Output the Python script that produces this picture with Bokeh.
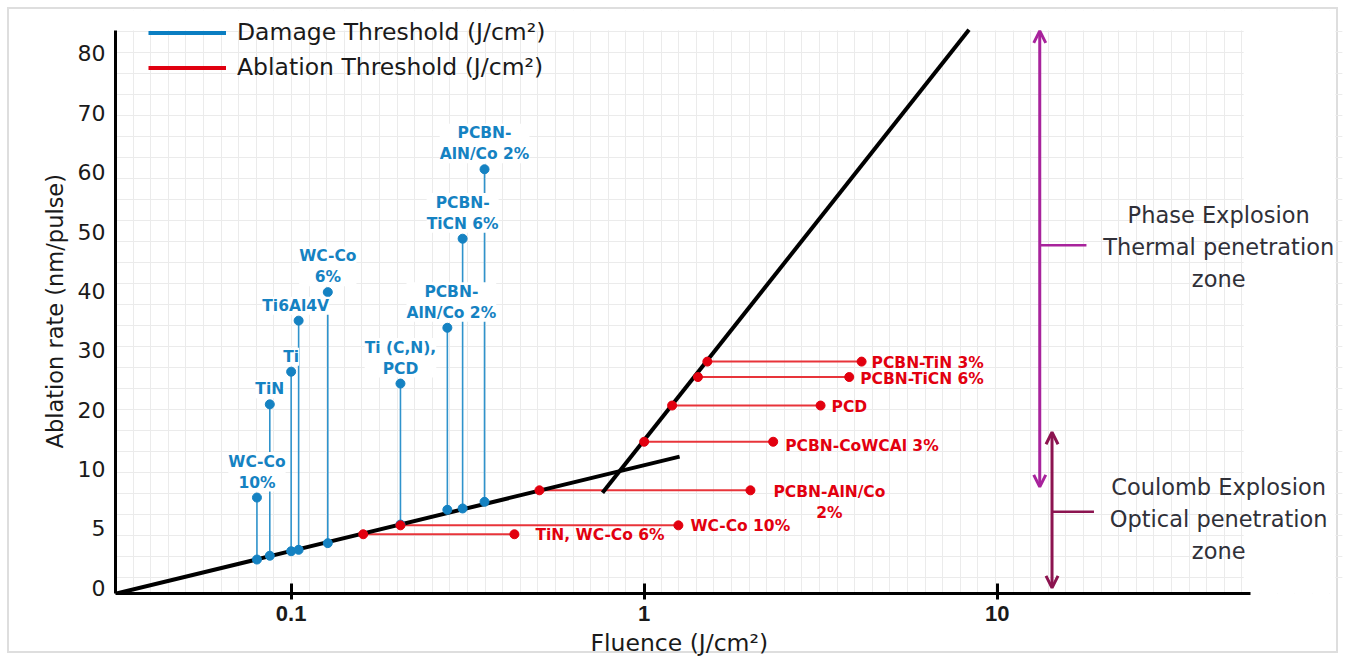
import numpy as np
from bokeh.plotting import figure
from bokeh.models import (Range1d, LinearScale, FixedTicker, SingleIntervalTicker, Grid,
                          ColumnDataSource, LabelSet, Label, Arrow, OpenHead, Legend, LegendItem,
                          BoxAnnotation, Title)
from bokeh.core.properties import value
from bokeh.embed import file_html
from bokeh.resources import INLINE

# ---------------- data ----------------
Y_TICK_VALUES = [0, 5, 10, 20, 30, 40, 50, 60, 70, 80]
X_TICK_VALUES = [0.1, 1, 10]
X_TICK_LABELS = ["0.1", "1", "10"]

# Damage threshold (blue): fluence, rate on the fit line, upper rate (labelled point)
damage_labels = ["WC-Co\n10%", "TiN", "Ti", "Ti6Al4V", "WC-Co\n6%", "Ti (C,N),\nPCD",
                 "PCBN-\nAlN/Co 2%", "PCBN-\nTiCN 6%", "PCBN-\nAlN/Co 2%"]
damage_fluence = [0.080, 0.087, 0.100, 0.105, 0.127, 0.204, 0.277, 0.306, 0.353]
damage_rate_fit = [2.38, 2.70, 3.08, 3.20, 3.76, 5.33, 6.57, 6.68, 7.24]
damage_rate_top = [7.6, 20.9, 26.4, 35.0, 39.8, 24.4, 33.8, 48.8, 60.5]

# Ablation threshold (red): fluence on the fit line, fluence of labelled point, rate
ablation_labels = ["TiN, WC-Co 6%", "WC-Co 10%", "PCBN-AlN/Co\n2%", "PCBN-CoWCAl 3%",
                   "PCD", "PCBN-TiCN 6%", "PCBN-TiN 3%"]
ablation_fluence_fit = [0.160, 0.204, 0.505, 1.00, 1.20, 1.42, 1.51]
ablation_fluence = [0.429, 1.25, 2.00, 2.32, 3.16, 3.81, 4.13]
ablation_rate = [4.51, 5.26, 8.21, 14.6, 20.7, 25.5, 28.1]

# Fit lines (two regimes)
fit_low_fluence = [0.0318, 1.26]
fit_low_rate = [-0.5, 12.1]
fit_high_fluence = [0.762, 8.32]
fit_high_rate = [8.0, 84.0]

# Regime annotations
phase_text = ["Phase Explosion", "Thermal penetration", "zone"]
coulomb_text = ["Coulomb Explosion", "Optical penetration", "zone"]

# ---------------- layout / style ----------------
BLUE = "#1582c2"
BLUE_LINE = "#2f93cc"
RED = "#e2000f"
RED_LINE = "#e8343a"
MAGENTA = "#a8239c"
MAROON = "#8c1450"
TEXT = "#1a1a1a"
ZTEXT = "#303038"
FONT = "DejaVu Sans"

damage_dx = [0, 0, 0, -3, 0, 0, 4, 0, 0]
ablation_dx = [21, 12, 79, 12, 11, 11, 10]
ablation_dy = [-1, -1, -1.5, -4, -1, -2, -1]
ablation_center = [False, False, True, False, False, False, False]
LINE_PITCH = 21
ZONE_PITCH = 32

X_START, X_END, X_AXIS_END, GRID_RIGHT = 0.0318, 96.98, 52.2, 49.9
BORDER_L, BORDER_R = 90.8, 95.0      # gap in the right-hand mask for the page border
Y_START, Y_END, Y_AXIS_END = -0.096, 9.724, 9.387
X_TITLE_OFFSET, Y_TITLE_OFFSET = 475, 145

# annotation placement (data units)
PHASE_X, PHASE_Y0, PHASE_Y1, PHASE_TICK_Y, PHASE_TICK_X = 13.2, 8.5, 83.8, 47.7, 17.9
COUL_X, COUL_Y0, COUL_Y1, COUL_TICK_Y, COUL_TICK_X = 14.3, 0.0, 16.2, 6.4, 18.8
ZONE_TEXT_X, PHASE_TEXT_Y, COUL_TEXT_Y = 42.4, 47.4, 5.76


def ypos(v):
    """Map a rate value onto the chart's piecewise y axis (ticks equally spaced)."""
    knots = np.array(Y_TICK_VALUES, float)
    idx = np.arange(len(knots), dtype=float)
    v = np.asarray(v, float)
    out = np.interp(v, knots, idx)
    out = np.where(v < knots[0], (v - knots[0]) / (knots[1] - knots[0]), out)
    out = np.where(v > knots[-1], idx[-1] + (v - knots[-1]) / (knots[-1] - knots[-2]), out)
    return out


def line_source(xs, ys, texts, dxs, dys, pitch, from_top):
    X, Y, T, DX, DY = [], [], [], [], []
    for x, y, t, dx, dy in zip(xs, ys, texts, dxs, dys):
        lines = t.split("\n")
        n = len(lines)
        for k, ln in enumerate(lines):
            X.append(x); Y.append(y); T.append(ln); DX.append(dx)
            DY.append(dy - k * pitch if from_top else dy + (n - 1 - k) * pitch)
    return ColumnDataSource(dict(x=X, y=Y, text=T, dx=DX, dy=DY))


p = figure(width=1345, height=660, x_axis_type="log",
           x_range=Range1d(X_START, X_END), y_range=Range1d(Y_START, Y_END),
           output_backend="svg", toolbar_location=None, title=None,
           min_border_left=115, min_border_right=0, min_border_top=10, min_border_bottom=67,
           background_fill_color=None, border_fill_color=None, outline_line_color=None)
p.styles = {"outline": "2px solid #dedede", "outline-offset": "-9px"}

# grid (uniform paper-like grid)
p.xgrid.visible = False
p.ygrid.visible = False
p.extra_x_ranges = {"gx": Range1d(0, 1230)}
p.extra_x_scales = {"gx": LinearScale()}
p.extra_y_ranges = {"gy": Range1d(562.3, -20.7)}
p.add_layout(Grid(dimension=0, ticker=SingleIntervalTicker(interval=17.6, num_minor_ticks=0),
                  x_range_name="gx", grid_line_color="#ebebeb", grid_line_width=1))
p.add_layout(Grid(dimension=1, ticker=SingleIntervalTicker(interval=21, num_minor_ticks=0),
                  y_range_name="gy", grid_line_color="#ebebeb", grid_line_width=1))
for box in (dict(left=GRID_RIGHT, right=BORDER_L), dict(left=BORDER_R),
            dict(bottom=Y_AXIS_END, right=BORDER_L), dict(bottom=Y_AXIS_END, left=BORDER_R)):
    p.add_layout(BoxAnnotation(fill_color="white", fill_alpha=1, line_color=None,
                               level="underlay", **box))

# x axis
xa = p.xaxis[0]
xa.ticker = FixedTicker(ticks=X_TICK_VALUES, minor_ticks=[])
xa.major_label_overrides = {t: l for t, l in zip(X_TICK_VALUES, X_TICK_LABELS)}
xa.bounds = (X_START, X_AXIS_END)
xa.axis_line_width = 3
xa.axis_line_color = "black"
xa.major_tick_line_width = 3
xa.major_tick_line_color = "black"
xa.major_tick_in = 10
xa.major_tick_out = 6
xa.minor_tick_line_color = None
xa.major_label_text_font = "Liberation Sans"
xa.major_label_text_font_style = "bold"
xa.major_label_text_font_size = "22px"
xa.major_label_text_color = TEXT
xa.major_label_standoff = 6

# y axis
ya = p.yaxis[0]
ya.ticker = FixedTicker(ticks=list(range(len(Y_TICK_VALUES))), minor_ticks=[])
ya.major_label_overrides = {i: str(v) for i, v in enumerate(Y_TICK_VALUES)}
ya.bounds = (Y_START, Y_AXIS_END)
ya.axis_line_width = 3
ya.axis_line_color = "black"
ya.major_tick_line_color = None
ya.major_tick_in = 0
ya.major_tick_out = 0
ya.minor_tick_line_color = None
ya.major_label_text_font = FONT
ya.major_label_text_font_size = "22px"
ya.major_label_text_color = TEXT
ya.major_label_standoff = 10

# axis titles (centred on the drawn axis lines, not on the extended frame)
p.add_layout(Title(text="Fluence (J/cm²)", align="left", offset=X_TITLE_OFFSET, standoff=6,
                   text_font=FONT, text_font_style="normal", text_font_size="23.5px",
                   text_color=TEXT), "below")
p.add_layout(Title(text="Ablation rate (nm/pulse)", align="left", offset=Y_TITLE_OFFSET, standoff=13,
                   text_font=FONT, text_font_style="normal", text_font_size="22.5px",
                   text_color=TEXT), "left")

# sources
dmg = ColumnDataSource(dict(x=damage_fluence, y0=ypos(damage_rate_fit), y1=ypos(damage_rate_top),
                            text=damage_labels, dx=damage_dx))
abl = ColumnDataSource(dict(x0=ablation_fluence_fit, x1=ablation_fluence, y=ypos(ablation_rate)))

# connectors
p.segment(x0="x", y0="y0", x1="x", y1="y1", source=dmg, line_color=BLUE_LINE, line_width=1.6)
p.segment(x0="x0", y0="y", x1="x1", y1="y", source=abl, line_color=RED_LINE, line_width=2)

# fit lines
p.line(fit_low_fluence, ypos(fit_low_rate), line_color="black", line_width=4)
p.line(fit_high_fluence, ypos(fit_high_rate), line_color="black", line_width=4)

# points
p.scatter("x", "y0", source=dmg, size=9, fill_color=BLUE, line_color=BLUE)
p.scatter("x", "y1", source=dmg, size=9, fill_color=BLUE, line_color=BLUE)
p.scatter("x0", "y", source=abl, size=9, fill_color=RED, line_color=RED)
p.scatter("x1", "y", source=abl, size=9, fill_color=RED, line_color=RED)

# damage labels: white boxes (multi-line) + centred text lines
label_font = dict(text_font=value(FONT), text_font_style="bold", text_font_size="15.5px")
p.add_layout(LabelSet(x="x", y="y1", text="text", source=dmg, x_offset="dx", y_offset=6,
                      text_align="center", text_baseline="bottom", text_alpha=0,
                      text_line_height=1.2, background_fill_color="white", **label_font))
dmg_lines = line_source(damage_fluence, list(ypos(damage_rate_top)), damage_labels,
                        damage_dx, [6] * len(damage_labels), LINE_PITCH, from_top=False)
p.add_layout(LabelSet(x="x", y="y", text="text", source=dmg_lines, x_offset="dx", y_offset="dy",
                      text_align="center", text_baseline="bottom", text_color=BLUE, **label_font))

# ablation labels
mask_c = np.array(ablation_center)
sel = lambda arr, m: [a for a, k in zip(arr, m) if k]
abl_y = list(ypos(ablation_rate))
left_src = line_source(sel(ablation_fluence, ~mask_c), sel(abl_y, ~mask_c), sel(ablation_labels, ~mask_c),
                       sel(ablation_dx, ~mask_c), sel(ablation_dy, ~mask_c), LINE_PITCH, from_top=True)
mid_src = line_source(sel(ablation_fluence, mask_c), sel(abl_y, mask_c), sel(ablation_labels, mask_c),
                      sel(ablation_dx, mask_c), sel(ablation_dy, mask_c), LINE_PITCH, from_top=True)
p.add_layout(LabelSet(x="x", y="y", text="text", source=left_src, x_offset="dx", y_offset="dy",
                      text_align="left", text_baseline="middle", text_color=RED, **label_font))
p.add_layout(LabelSet(x="x", y="y", text="text", source=mid_src, x_offset="dx", y_offset="dy",
                      text_align="center", text_baseline="middle", text_color=RED, **label_font))

# legend
leg_b = p.line([float("nan")], [float("nan")], line_color="#0a7ec2", line_width=4)
leg_r = p.line([float("nan")], [float("nan")], line_color="#e00010", line_width=4)
legend = Legend(items=[LegendItem(label="Damage Threshold (J/cm²)", renderers=[leg_b]),
                       LegendItem(label="Ablation Threshold (J/cm²)", renderers=[leg_r])],
                location=(33, 512), orientation="vertical",
                label_text_font=FONT, label_text_font_size="23.5px", label_text_color=TEXT,
                glyph_width=78, glyph_height=27, label_height=27, label_standoff=11,
                spacing=7, padding=0, margin=0,
                border_line_color=None, background_fill_alpha=0)
p.add_layout(legend)

# regime annotations
def head(c):
    return OpenHead(size=12, line_color=c, line_width=3)

p.add_layout(Arrow(x_start=PHASE_X, y_start=float(ypos(PHASE_Y0)), x_end=PHASE_X, y_end=float(ypos(PHASE_Y1)),
                   start=head(MAGENTA), end=head(MAGENTA), line_color=MAGENTA, line_width=3))
p.add_layout(Arrow(x_start=PHASE_X, y_start=float(ypos(PHASE_TICK_Y)), x_end=PHASE_TICK_X,
                   y_end=float(ypos(PHASE_TICK_Y)), end=None, line_color=MAGENTA, line_width=2.5))
p.add_layout(Arrow(x_start=COUL_X, y_start=float(ypos(COUL_Y0)), x_end=COUL_X, y_end=float(ypos(COUL_Y1)),
                   start=head(MAROON), end=head(MAROON), line_color=MAROON, line_width=3))
p.add_layout(Arrow(x_start=COUL_X, y_start=float(ypos(COUL_TICK_Y)), x_end=COUL_TICK_X,
                   y_end=float(ypos(COUL_TICK_Y)), end=None, line_color=MAROON, line_width=2.5))

for lines, yv in ((phase_text, PHASE_TEXT_Y), (coulomb_text, COUL_TEXT_Y)):
    for k, ln in enumerate(lines):
        p.add_layout(Label(x=ZONE_TEXT_X, y=float(ypos(yv)), y_offset=ZONE_PITCH * (1 - k), text=ln,
                           text_align="center", text_baseline="middle", text_font=FONT,
                           text_font_size="22.5px", text_color=ZTEXT))

open("out.html", "w").write(file_html(p, INLINE))
